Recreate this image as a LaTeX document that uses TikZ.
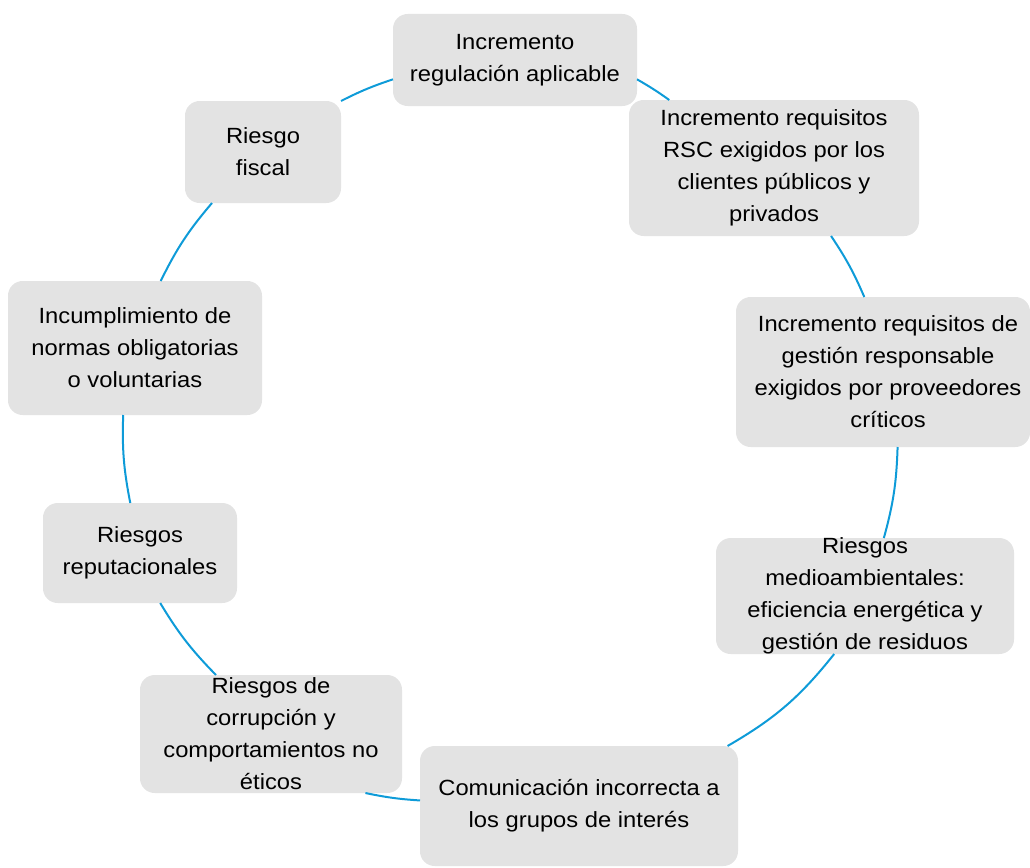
\documentclass[tikz,border=0pt]{standalone}
\usepackage{fontspec}
\setmainfont{Liberation Sans}[FakeStretch=1.08]
\definecolor{boxgray}{RGB}{227,227,227}
\definecolor{cyc}{RGB}{14,155,216}
\begin{document}
\begin{tikzpicture}[x=0.75pt,y=0.75pt,
  box/.style={rectangle, fill=boxgray, rounded corners=11pt, outer sep=0pt, inner sep=0pt},
  sz/.style 2 args={minimum width=#1*0.75pt, minimum height=#2*0.75pt},
  txt/.style={align=center, inner sep=0pt, font=\fontsize{16.5}{24}\selectfont, text=black},
  link/.style={draw=cyc, line width=1.5pt}]
\useasboundingbox (0,0) rectangle (1030,-867);
% boxes
\node[box, sz={244}{92}]  (n1) at (515,-60) {};
\node[box, sz={290}{136}] (n2) at (774,-168) {};
\node[box, sz={294}{150}] (n3) at (883,-372) {};
\node[box, sz={298}{116}] (n4) at (865,-596) {};
\node[box, sz={318}{120}] (n5) at (579,-806) {};
\node[box, sz={262}{118}] (n6) at (271,-734) {};
\node[box, sz={194}{100}] (n7) at (140,-553) {};
\node[box, sz={254}{134}] (n8) at (135,-348) {};
\node[box, sz={156}{102}] (n9) at (263,-152) {};
% texts
\node[txt] (t1) at (n1) {Incremento\\regulación aplicable};
\node[txt] (t2) at (n2) {Incremento requisitos\\RSC exigidos por los\\clientes públicos y\\privados};
\node[txt] (t3) at (888,-372) {Incremento requisitos de\\gestión responsable\\exigidos por proveedores\\críticos};
\node[txt] (t4) at (n4) {Riesgos\\medioambientales:\\eficiencia energética y\\gestión de residuos};
\node[txt] (t5) at (n5) {Comunicación incorrecta a\\los grupos de interés};
\node[txt] (t6) at (n6) {Riesgos de\\corrupción y\\comportamientos no\\éticos};
\node[txt] (t7) at (n7) {Riesgos\\reputacionales};
\node[txt] (t8) at (n8) {Incumplimiento de\\normas obligatorias\\o voluntarias};
\node[txt] (t9) at (n9) {Riesgo\\fiscal};
% cycle arcs
\draw[link] (n1.-9)   to[bend left=2.8]  (n2.147);
\draw[link] (n2.-50)  to[bend left=5.2]  (n3.104);
\draw[link] (n3.-79)  to[bend left=6.8]  (n4.72);
\draw[link] (n4.-118) to[bend left=10.7] (n5.22);
\draw[link] (n5.178)  to[bend left=4]    (n6.-32);
\draw[link] (n6.133)  to[bend left=6.6]  (n7.-68);
\draw[link] (n7.101)  to[bend left=6.5]  (n8.-100);
\draw[link] (n8.69)   to[bend left=7.1]  (n9.-135);
\draw[link] (n9.north east) to[bend left=4.2] (n1.189);
\end{tikzpicture}
\end{document}
